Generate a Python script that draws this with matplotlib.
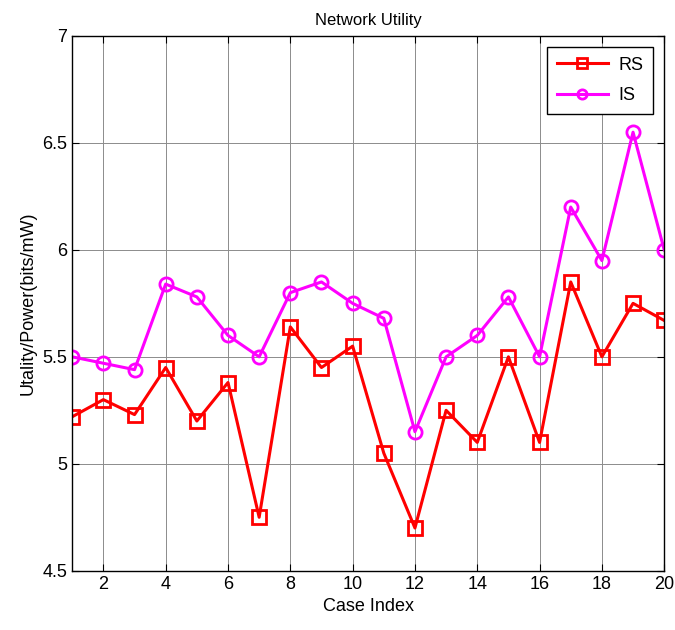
import matplotlib
matplotlib.use('Agg')
import matplotlib.pyplot as plt

plt.rcParams['font.family'] = ['Liberation Sans', 'DejaVu Sans']

# data
caseIndex = list(range(1, 21))
rsValues = [5.22, 5.30, 5.23, 5.45, 5.20, 5.38, 4.75, 5.64, 5.45, 5.55,
            5.05, 4.70, 5.25, 5.10, 5.50, 5.10, 5.85, 5.50, 5.75, 5.67]
isValues = [5.50, 5.47, 5.44, 5.84, 5.78, 5.60, 5.50, 5.80, 5.85, 5.75,
            5.68, 5.15, 5.50, 5.60, 5.78, 5.50, 6.20, 5.95, 6.55, 6.00]
xTicks = [2, 4, 6, 8, 10, 12, 14, 16, 18, 20]
yTicks = [4.5, 5, 5.5, 6, 6.5, 7]

fig = plt.figure(figsize=(6.75, 6.3), dpi=100)
ax = fig.add_axes([0.107, 0.094, 0.877, 0.849])

ax.plot(caseIndex, rsValues, color='#ff0000', linewidth=2.2, marker='s',
        markersize=9.5, markerfacecolor='none', markeredgewidth=2, label='RS')
ax.plot(caseIndex, isValues, color='#ff00ff', linewidth=2.2, marker='o',
        markersize=9.5, markerfacecolor='none', markeredgewidth=2, label='IS')

ax.set_xlim(1, 20)
ax.set_ylim(4.5, 7)
ax.set_xticks(xTicks)
ax.set_yticks(yTicks)
ax.set_yticklabels(['4.5', '5', '5.5', '6', '6.5', '7'])
ax.tick_params(direction='in', top=True, right=True, labelsize=13, length=5)
ax.grid(True, color='#8c8c8c', linewidth=0.7)
for s in ax.spines.values():
    s.set_linewidth(1.0)

ax.set_title('Network Utility', fontsize=12, pad=8)
ax.set_xlabel('Case Index', fontsize=13)
ax.set_ylabel('Utality/Power(bits/mW)', fontsize=13)

leg = ax.legend(loc='upper right', fontsize=13, fancybox=False, framealpha=1,
                edgecolor='black', handlelength=2.8, borderpad=0.55,
                labelspacing=0.75, borderaxespad=0.6, markerscale=0.7,
                handletextpad=0.6)
leg.get_frame().set_linewidth(1.0)

fig.savefig('out.png', dpi=100)
